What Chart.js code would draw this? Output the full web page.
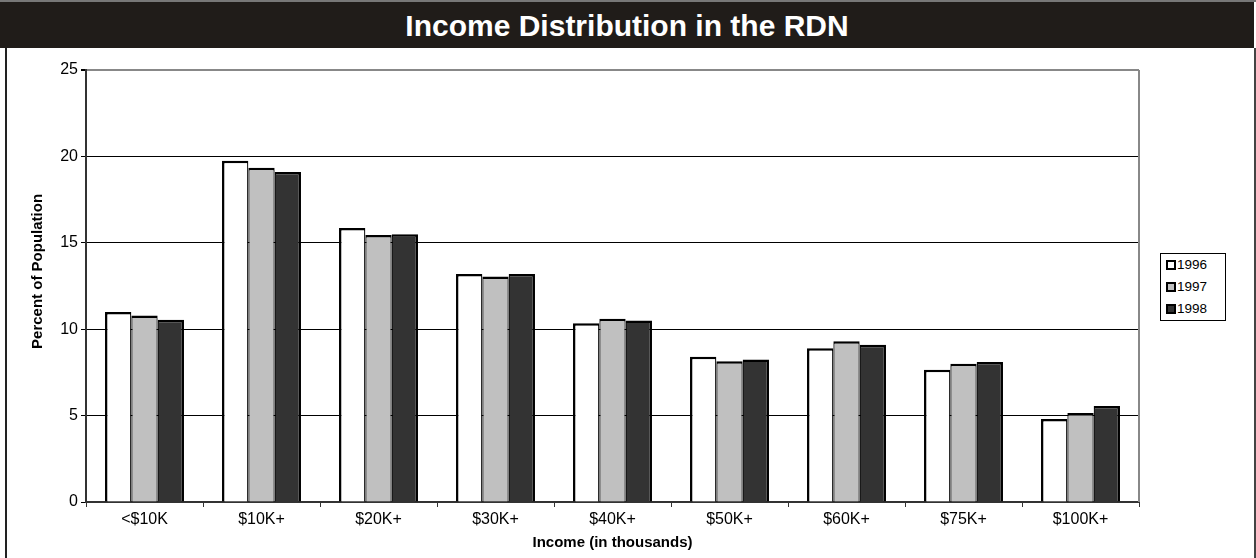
<!DOCTYPE html>
<html>
<head>
<meta charset="utf-8">
<title>Income Distribution in the RDN</title>
<script src="https://cdn.jsdelivr.net/npm/chart.js@4.4.1/dist/chart.umd.min.js"></script>
<style>
  html, body { margin: 0; padding: 0; background: #fff; }
  body { width: 1256px; height: 558px; position: relative; overflow: hidden;
         font-family: "Liberation Sans", Arial, sans-serif; }
  #topline { position: absolute; left: 0; top: 0; width: 1256px; height: 2px; background: #777; }
  #titleBar { position: absolute; left: 0; top: 2px; width: 1254px; height: 46px;
              background: #201c19; color: #fff; font-weight: bold; font-size: 30px;
              text-align: center; line-height: 48px; }
  #frame { position: absolute; left: 5px; top: 48px; width: 1247px; height: 520px;
           border-left: 2px solid #222; border-right: 2px solid #444; }
  #chartBox { position: absolute; left: 7px; top: 48px; width: 1245px; height: 510px; }
  #legend { position: absolute; left: 1160px; top: 253px; width: 64px; height: 66px;
            border: 1px solid #000; background: #fff; }
  .item { height: 22px; line-height: 22px; font-size: 13.5px; color: #000; white-space: nowrap; }
  .sw { display: inline-block; width: 6px; height: 6px; border: 2px solid #000;
        margin-left: 5px; margin-right: 1px; vertical-align: -1px; }
</style>
</head>
<body>
<div id="topline"></div>
<div id="titleBar">Income Distribution in the RDN</div>
<div id="frame"></div>
<div id="chartBox"><canvas id="incomeChart"></canvas></div>
<div id="legend"></div>

<script>
const categories = ["<$10K", "$10K+", "$20K+", "$30K+", "$40K+", "$50K+", "$60K+", "$75K+", "$100K+"];
const years = ["1996", "1997", "1998"];
const values1996 = [11.0, 19.75, 15.85, 13.2, 10.35, 8.4, 8.9, 7.65, 4.8];
const values1997 = [10.8, 19.35, 15.45, 13.05, 10.6, 8.15, 9.3, 8.0, 5.15];
const values1998 = [10.55, 19.1, 15.5, 13.2, 10.5, 8.25, 9.1, 8.1, 5.55];
const yTicks = [0, 5, 10, 15, 20, 25];

const barColors = ["#ffffff", "#c0c0c0", "#333333"];
const FONT = "'Liberation Sans', Arial, sans-serif";

// right side of the plot frame in grey like the original
const plotFrame = {
    id: "plotFrame",
    beforeDatasetsDraw(chart) {
        const { ctx, chartArea } = chart;
        ctx.save();
        ctx.strokeStyle = "#888";
        ctx.lineWidth = 2;
        ctx.beginPath();
        ctx.moveTo(chartArea.right, chartArea.top);
        ctx.lineTo(chartArea.right, chartArea.bottom);
        ctx.stroke();
        ctx.restore();
    }
};

document.addEventListener("DOMContentLoaded", function () {
    const ctx = document.getElementById("incomeChart").getContext("2d");

    const allValues = [values1996, values1997, values1998];
    const borders = [
        { top: 2.5, left: 2.5, right: 1.25, bottom: 0 },
        { top: 2.5, left: 1.25, right: 1.25, bottom: 0 },
        { top: 2.5, left: 1.25, right: 2.5, bottom: 0 }
    ];

    const datasets = years.map((yr, i) => ({
        label: yr,
        data: allValues[i],
        backgroundColor: barColors[i],
        borderColor: "#000",
        borderWidth: borders[i],
        borderSkipped: false,
        barPercentage: 1.0,
        categoryPercentage: 0.675
    }));

    const chart = new Chart(ctx, {
        type: "bar",
        data: { labels: categories, datasets: datasets },
        options: {
            responsive: true,
            maintainAspectRatio: false,
            animation: false,
            layout: { padding: { left: 0, right: 113, top: 22, bottom: 0 } },
            plugins: {
                legend: { display: false },
                tooltip: { enabled: false }
            },
            scales: {
                x: {
                    afterFit: s => { s.height = 56; },
                    grid: { drawOnChartArea: false, tickLength: 5, tickColor: "#333" },
                    border: { color: "#333", width: 2 },
                    ticks: { color: "#000", font: { family: FONT, size: 16 }, padding: 3 },
                    title: {
                        display: true,
                        text: "Income (in thousands)",
                        color: "#000",
                        font: { family: FONT, size: 15, weight: "bold" },
                        padding: { top: 0, bottom: 6 }
                    }
                },
                y: {
                    min: 0,
                    max: 25,
                    afterFit: s => { s.width = 79; },
                    afterBuildTicks: s => { s.ticks = yTicks.map(v => ({ value: v })); },
                    grid: {
                        color: c => (c.tick && c.tick.value === 25) ? "#888" : "#000",
                        lineWidth: c => (c.tick && c.tick.value === 25) ? 2 : 1,
                        tickColor: "#000",
                        tickLength: 5
                    },
                    border: { color: "#333", width: 2 },
                    ticks: { color: "#000", font: { family: FONT, size: 16 }, padding: 3 },
                    title: {
                        display: true,
                        // leading spaces lift the label a little, as in the original
                        text: "       Percent of Population",
                        color: "#000",
                        font: { family: FONT, size: 15, weight: "bold" },
                        padding: { top: 22, bottom: 0 }
                    }
                }
            }
        },
        plugins: [plotFrame]
    });

    // legend box built from the datasets
    const legend = document.getElementById("legend");
    chart.data.datasets.forEach(ds => {
        const item = document.createElement("div");
        item.className = "item";
        const sw = document.createElement("span");
        sw.className = "sw";
        sw.style.background = ds.backgroundColor;
        const txt = document.createElement("span");
        txt.textContent = ds.label;
        item.appendChild(sw);
        item.appendChild(txt);
        legend.appendChild(item);
    });
});
</script>
</body>
</html>
